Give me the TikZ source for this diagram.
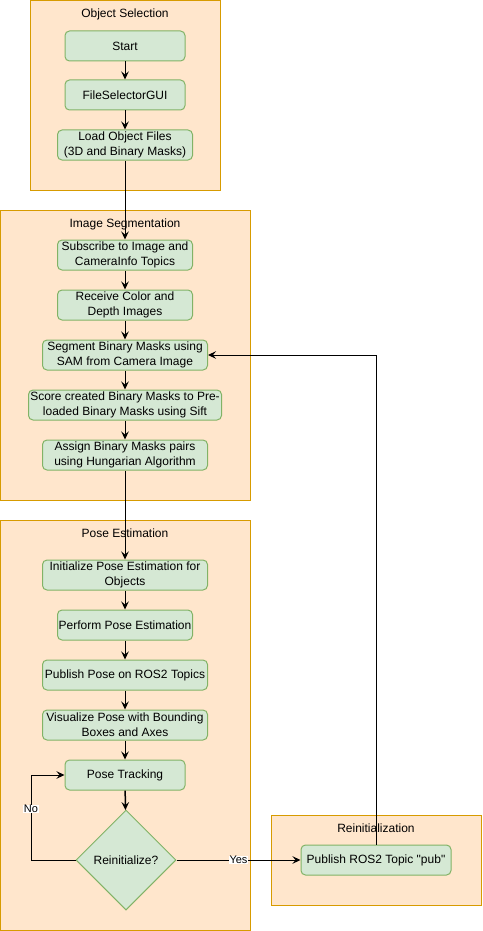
\documentclass[tikz,border=0pt]{standalone}
\usepackage{fontspec}
\setmainfont{Liberation Sans}
\usetikzlibrary{arrows.meta,shapes.geometric}
\definecolor{groupfill}{HTML}{FFE6CC}
\definecolor{groupline}{HTML}{D79B00}
\definecolor{stepfill}{HTML}{D5E8D4}
\definecolor{stepline}{HTML}{82B366}
\tikzset{
  group/.style={fill=groupfill,draw=groupline,line width=1pt},
  grouptitle/.style={font=\fontsize{12}{14.4}\selectfont,inner sep=0pt},
  stepbox/.style={rectangle,rounded corners=4.5pt,fill=stepfill,draw=stepline,line width=1pt,
    minimum height=30pt,align=center,inner sep=0pt,font=\fontsize{12}{14.6}\selectfont},
  decision/.style={diamond,aspect=1,fill=stepfill,draw=stepline,line width=1pt,
    minimum width=100pt,minimum height=100pt,inner sep=0pt,font=\fontsize{12}{14.4}\selectfont},
  arr/.style={-{Stealth[length=8pt,width=7.5pt,inset=3pt]},line width=1pt},
  lbl/.style={fill=white,inner sep=0.5pt,font=\fontsize{11}{13}\selectfont}
}
\begin{document}
\begin{tikzpicture}[x=1pt,y=-1pt]
\useasboundingbox (0,0) rectangle (482,931);
% groups
\draw[group] (30,0.5) rectangle (220,190);
\draw[group] (0.5,210) rectangle (250,500);
\draw[group] (0.5,520) rectangle (250,930);
\draw[group] (271,815) rectangle (481,905);
\node[grouptitle] (tsel) at (125,14) {Object Selection};
\node[grouptitle] (tseg) at (125,224) {Image Segmentation};
\node[grouptitle] (tpose) at (125,533) {Pose Estimation};
\node[grouptitle] (treinit) at (376,828) {Reinitialization};
% object selection
\node[stepbox,minimum width=120pt] (start) at (125,46) {Start};
\node[stepbox,minimum width=120pt] (gui) at (125,95) {FileSelectorGUI};
\node[stepbox,minimum width=135pt] (load) at (125,145) {Load Object Files\\(3D and Binary Masks)};
% image segmentation
\node[stepbox,minimum width=135pt] (sub) at (125,255) {Subscribe to Image and\\CameraInfo Topics};
\node[stepbox,minimum width=135pt] (recv) at (125,305) {Receive Color and\\Depth Images};
\node[stepbox,minimum width=165pt] (seg) at (125,355) {Segment Binary Masks using\\SAM from Camera Image};
\node[stepbox,minimum width=193pt] (score) at (125,405) {Score created Binary Masks to Pre-\\loaded Binary Masks using Sift};
\node[stepbox,minimum width=165pt] (assign) at (125,455) {Assign Binary Masks pairs\\using Hungarian Algorithm};
% pose estimation
\node[stepbox,minimum width=165pt] (init) at (125,575) {Initialize Pose Estimation for\\Objects};
\node[stepbox,minimum width=135pt] (perf) at (125,625) {Perform Pose Estimation};
\node[stepbox,minimum width=165pt] (pubpose) at (125,675) {Publish Pose on ROS2 Topics};
\node[stepbox,minimum width=165pt] (vis) at (125,725) {Visualize Pose with Bounding\\Boxes and Axes};
\node[stepbox,minimum width=120pt] (track) at (125,775) {Pose Tracking};
\node[decision] (dec) at (126,860) {Reinitialize?};
% reinitialization
\node[stepbox,minimum width=150pt] (pubros) at (376,860) {Publish ROS2 Topic \textquotedbl pub\textquotedbl};
% edges
\draw[arr] (start) -- (gui);
\draw[arr] (gui) -- (load);
\draw[arr] (load) -- (sub);
\draw[arr] (sub) -- (recv);
\draw[arr] (recv) -- (seg);
\draw[arr] (seg) -- (score);
\draw[arr] (score) -- (assign);
\draw[arr] (assign) -- (init);
\draw[arr] (init) -- (perf);
\draw[arr] (perf) -- (pubpose);
\draw[arr] (pubpose) -- (vis);
\draw[arr] (vis) -- (track);
\draw[arr,line width=1.5pt] (track) -- (dec);
\coordinate (noturn) at (31,860);
\draw[arr] (dec.west) -- (noturn) |- node[lbl,pos=0.3] {No} (track.west);
\draw[arr] (dec.east) -- node[lbl] {Yes} (pubros.west);
\draw[arr] (pubros.north) |- (seg.east);
\end{tikzpicture}
\end{document}
